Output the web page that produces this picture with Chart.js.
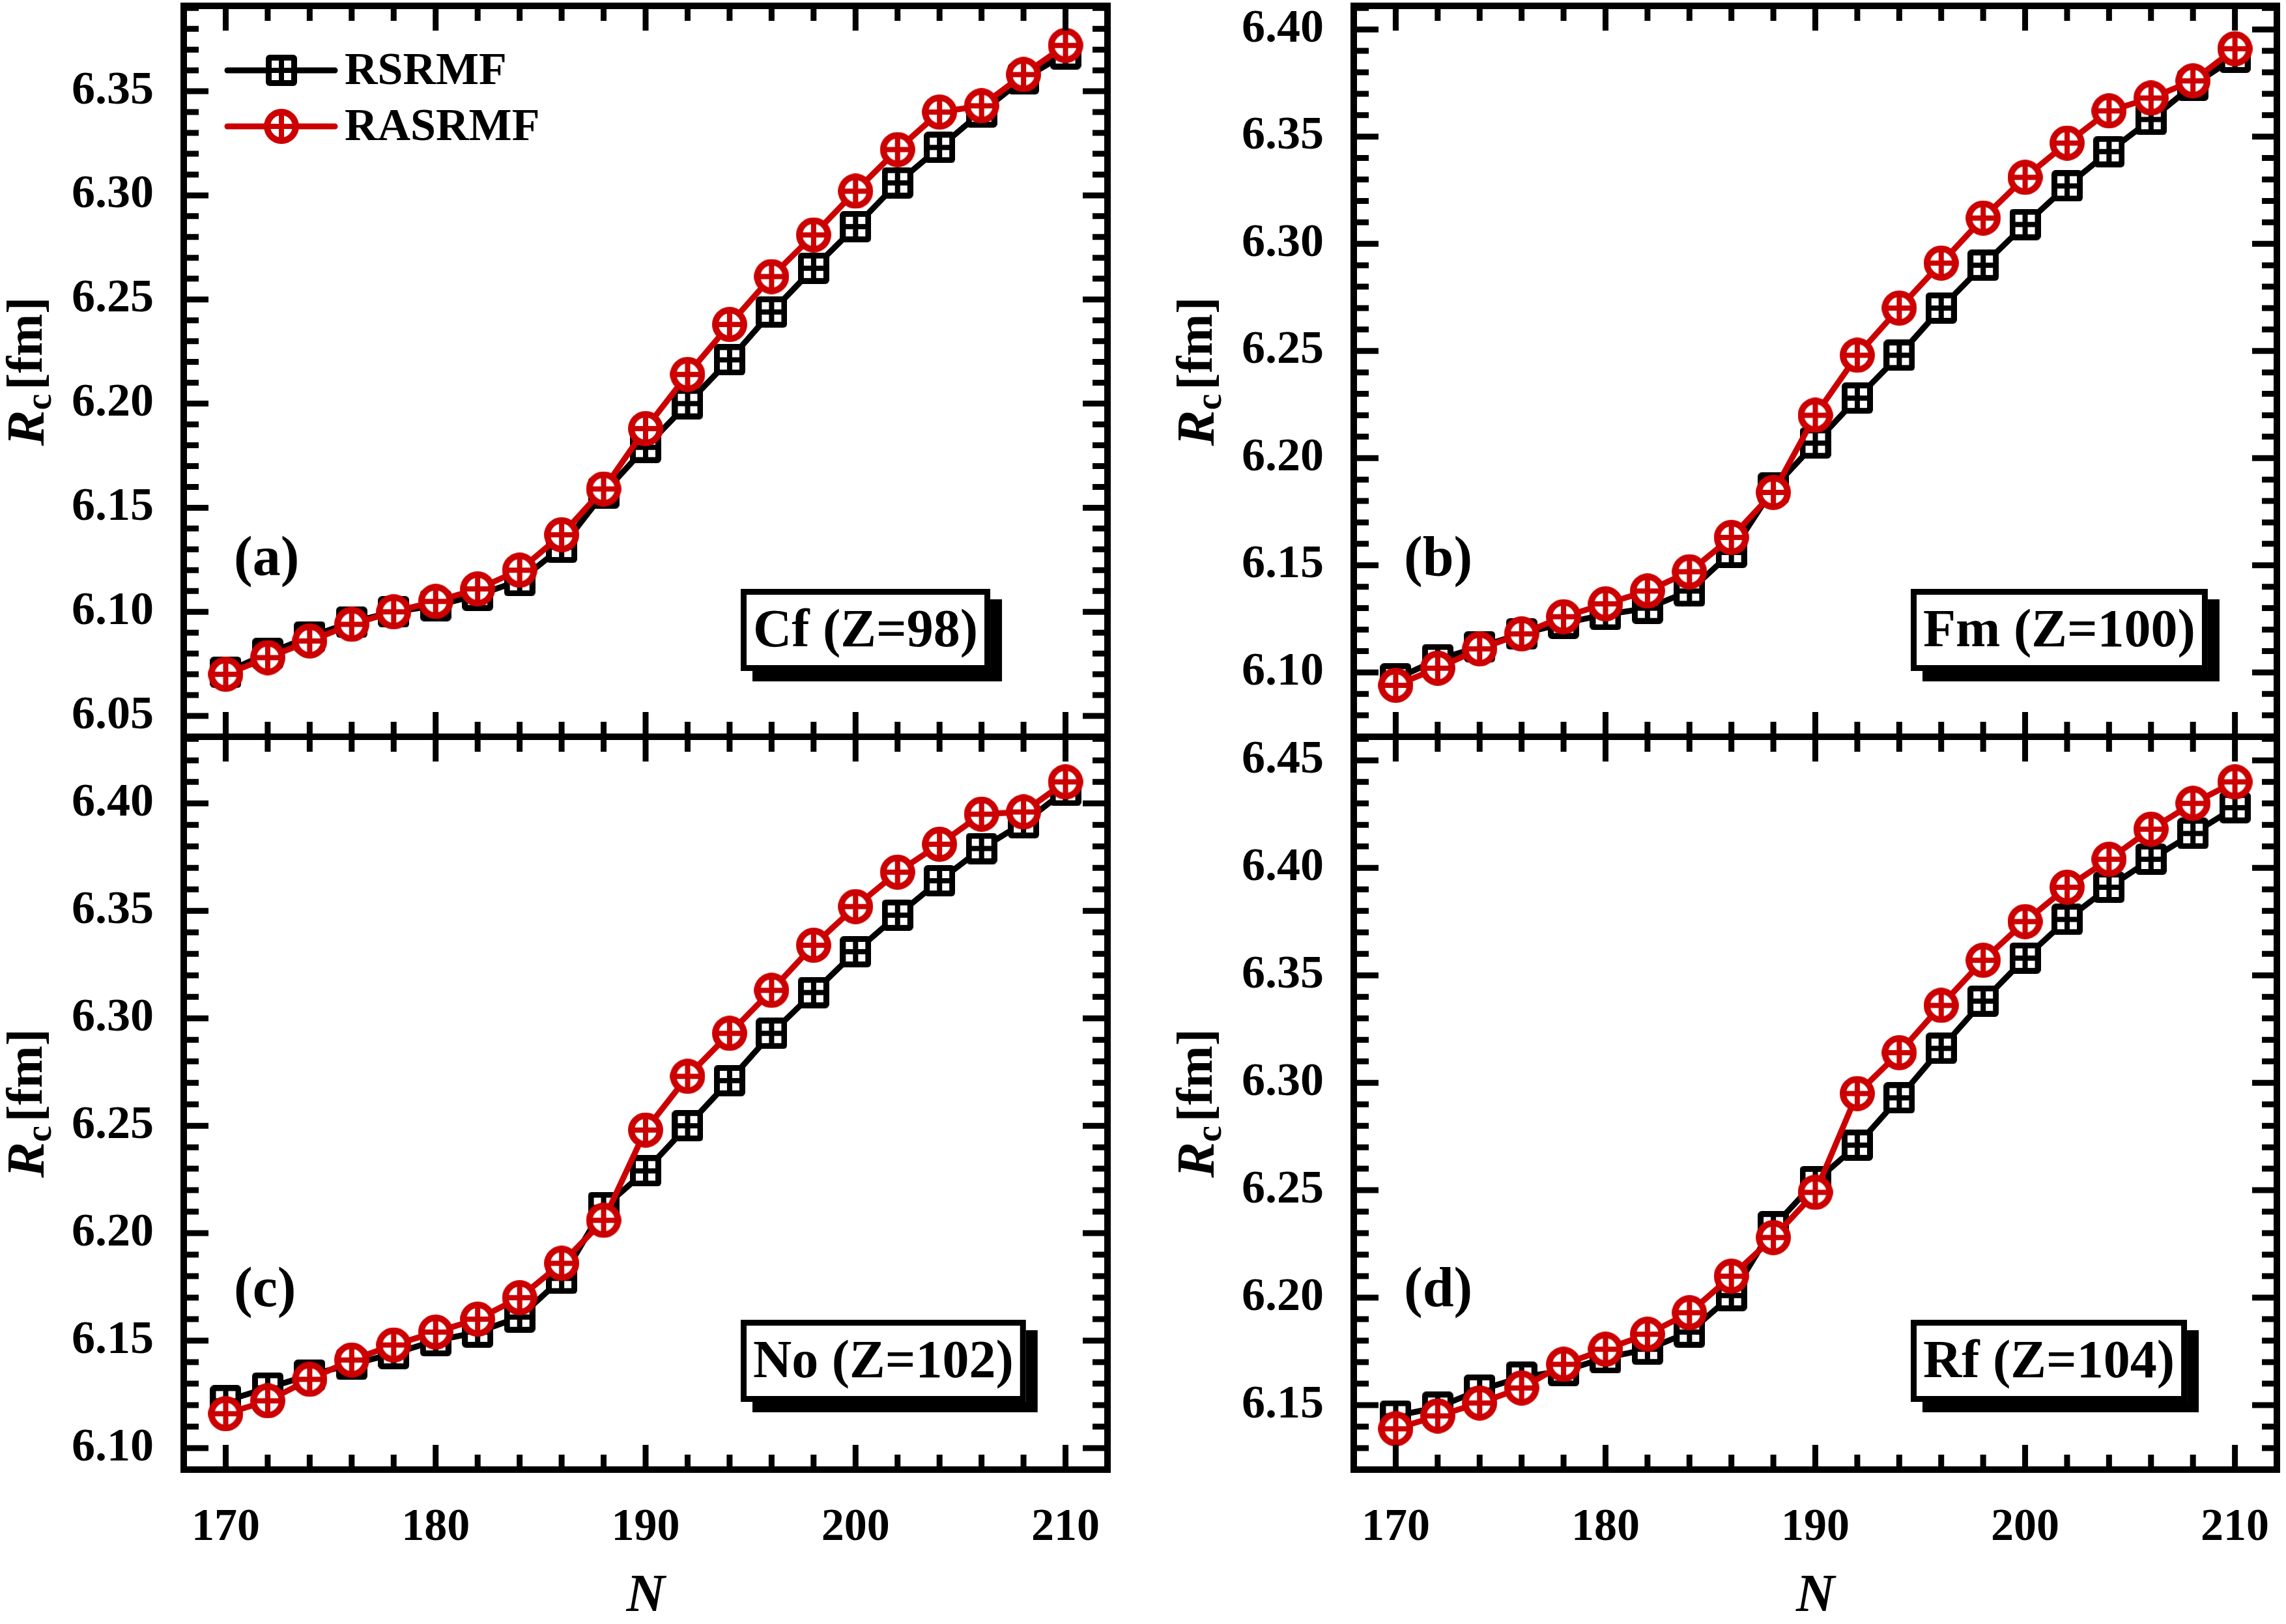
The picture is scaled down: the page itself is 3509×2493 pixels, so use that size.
<!DOCTYPE html>
<html lang="en">
<head>
<meta charset="UTF-8">
<title>Rc vs N</title>
<script src="https://cdn.jsdelivr.net/npm/chart.js@4.4.0/dist/chart.umd.min.js"></script>
<style>
  body { margin: 0; background: #fff; width: 3509px; height: 2493px; overflow: hidden; position: relative; }
  canvas { position: absolute; }
</style>
</head>
<body>
<canvas id="chartA" width="1754" height="1160" style="left:0;top:0"></canvas>
<canvas id="chartB" width="1755" height="1160" style="left:1754px;top:0"></canvas>
<canvas id="chartC" width="1754" height="1393" style="left:0;top:1100px"></canvas>
<canvas id="chartD" width="1755" height="1393" style="left:1754px;top:1100px"></canvas>
<script>
// neutron numbers
const neutrons = [170,172,174,176,178,180,182,184,186,188,190,192,194,196,198,200,202,204,206,208,210];

// Cf (Z=98)
const cfRSRMF  = [6.071,6.080,6.088,6.095,6.100,6.103,6.108,6.115,6.131,6.157,6.179,6.200,6.221,6.244,6.265,6.285,6.306,6.323,6.340,6.356,6.368];
const cfRASRMF = [6.070,6.078,6.086,6.094,6.100,6.105,6.111,6.120,6.137,6.159,6.188,6.214,6.238,6.261,6.281,6.302,6.322,6.340,6.343,6.358,6.372];
// Fm (Z=100)
const fmRSRMF  = [6.097,6.106,6.112,6.118,6.123,6.127,6.130,6.138,6.156,6.186,6.207,6.228,6.248,6.270,6.290,6.309,6.327,6.343,6.358,6.374,6.387];
const fmRASRMF = [6.094,6.102,6.111,6.118,6.126,6.132,6.138,6.147,6.163,6.184,6.220,6.248,6.270,6.291,6.312,6.331,6.347,6.362,6.368,6.376,6.391];
// No (Z=102)
const noRSRMF  = [6.122,6.128,6.134,6.139,6.144,6.150,6.154,6.161,6.179,6.212,6.229,6.250,6.271,6.293,6.312,6.331,6.348,6.364,6.379,6.391,6.406];
const noRASRMF = [6.116,6.122,6.132,6.141,6.148,6.154,6.160,6.170,6.186,6.206,6.248,6.273,6.293,6.313,6.334,6.352,6.368,6.381,6.395,6.396,6.410];
// Rf (Z=104)
const rfRSRMF  = [6.145,6.149,6.157,6.163,6.166,6.172,6.176,6.184,6.201,6.233,6.254,6.271,6.293,6.316,6.338,6.358,6.376,6.391,6.404,6.416,6.428];
const rfRASRMF = [6.139,6.145,6.151,6.158,6.169,6.176,6.183,6.193,6.210,6.228,6.249,6.295,6.314,6.336,6.357,6.375,6.391,6.404,6.418,6.430,6.440];

// axis ranges [min, max]
const xRange = [168, 212];
const yRangeA = [6.040, 6.391];
const yRangeB = [6.070, 6.411];
const yRangeC = [6.090, 6.431];
const yRangeD = [6.120, 6.461];

const seriesNames = ['RSRMF', 'RASRMF'];
const RED = 'rgb(204,0,0)';
const FONT = "'Liberation Serif', 'Times New Roman', serif";

// marker glyphs: square with a cross, circle with a cross
function squareMarker() {
  const s = 48, c = document.createElement('canvas');
  c.width = s; c.height = s;
  const g = c.getContext('2d');
  g.fillStyle = '#000';
  g.beginPath(); g.roundRect(0, 0, s, s, 6); g.fill();
  g.fillStyle = '#fff';
  const b = 9, bar = 8, w = (s - 2 * b - bar) / 2;
  g.fillRect(b, b, w, w);
  g.fillRect(b + w + bar, b, w, w);
  g.fillRect(b, b + w + bar, w, w);
  g.fillRect(b + w + bar, b + w + bar, w, w);
  return c;
}
function circleMarker() {
  const s = 54, c = document.createElement('canvas');
  c.width = s; c.height = s;
  const g = c.getContext('2d');
  const r = s / 2;
  g.fillStyle = RED;
  g.beginPath(); g.arc(r, r, r, 0, Math.PI * 2); g.fill();
  g.fillStyle = '#fff';
  g.beginPath(); g.arc(r, r, r - 10, 0, Math.PI * 2); g.fill();
  g.fillStyle = RED;
  g.fillRect(r - 4, 6, 8, s - 12);
  g.fillRect(6, r - 4, s - 12, 8);
  return c;
}
const sqImg = squareMarker();
const ciImg = circleMarker();

function isMajorY(v) { return Math.round(v * 100) % 5 === 0; }
function isMajorX(v) { return Math.round(v) % 10 === 0; }

function stepTicks(min, max, step) {
  const out = [];
  for (let i = Math.ceil(min / step - 1e-6); i <= Math.floor(max / step + 1e-6); i++) {
    out.push({ value: +(i * step).toFixed(4) });
  }
  return out;
}

// frame, inward ticks, legend, labels
const framePlugin = {
  id: 'frame',
  afterDraw(chart, args, opts) {
    const ctx = chart.ctx, a = chart.chartArea;
    const xs = chart.scales.x, ys = chart.scales.y;
    ctx.save();
    ctx.strokeStyle = '#000';
    ctx.lineWidth = 9;
    ctx.beginPath();
    xs.ticks.forEach(t => {
      const px = xs.getPixelForValue(t.value);
      const len = isMajorX(t.value) ? 38 : 23;
      ctx.moveTo(px, a.bottom); ctx.lineTo(px, a.bottom - len);
      ctx.moveTo(px, a.top); ctx.lineTo(px, a.top + len);
    });
    ys.ticks.forEach(t => {
      const py = ys.getPixelForValue(t.value);
      const len = isMajorY(t.value) ? 38 : 23;
      ctx.moveTo(a.left, py); ctx.lineTo(a.left + len, py);
      ctx.moveTo(a.right, py); ctx.lineTo(a.right - len, py);
    });
    ctx.stroke();
    ctx.lineWidth = 10;
    ctx.strokeRect(a.left, a.top, a.right - a.left, a.bottom - a.top);

    // y title R_c [fm]
    ctx.fillStyle = '#000';
    ctx.translate(a.left - 236, (a.top + a.bottom) / 2);
    ctx.rotate(-Math.PI / 2);
    ctx.textBaseline = 'middle';
    ctx.textAlign = 'left';
    const fR = 'italic bold 82px ' + FONT, fC = 'bold 56px ' + FONT, fU = 'bold 78px ' + FONT;
    ctx.font = fR; const wR = ctx.measureText('R').width;
    ctx.font = fC; const wC = ctx.measureText('c').width;
    ctx.font = fU; const wU = ctx.measureText('[fm]').width;
    let x0 = -(wR + wC + 6 + wU) / 2;
    ctx.font = fR; ctx.fillText('R', x0, 0);
    ctx.font = fC; ctx.fillText('c', x0 + wR, 18);
    ctx.font = fU; ctx.fillText('[fm]', x0 + wR + wC + 6, -2);
    ctx.setTransform(1, 0, 0, 1, 0, 0);

    // panel tag
    ctx.font = 'bold 86px ' + FONT;
    ctx.textAlign = 'left';
    ctx.textBaseline = 'middle';
    ctx.fillText(opts.tag, a.left + 77, a.top + 852);

    // element box with shadow
    ctx.font = 'bold 82px ' + FONT;
    const tw = ctx.measureText(opts.element).width;
    const bx = a.left + 855, by = a.top + 895, bw = tw + 38, bh = 126;
    ctx.fillStyle = '#000';
    ctx.fillRect(bx + 18, by + 16, bw, bh);
    ctx.fillStyle = '#fff';
    ctx.fillRect(bx, by, bw, bh);
    ctx.lineWidth = 9;
    ctx.strokeStyle = '#000';
    ctx.strokeRect(bx + 4.5, by + 4.5, bw - 9, bh - 9);
    ctx.fillStyle = '#000';
    ctx.textAlign = 'center';
    ctx.fillText(opts.element, bx + bw / 2, by + bh / 2 + 4);

    // legend
    if (opts.legend) {
      const rows = [
        { y: a.top + 99, color: '#000', img: sqImg, name: seriesNames[0] },
        { y: a.top + 185, color: RED, img: ciImg, name: seriesNames[1] }
      ];
      ctx.font = 'bold 70px ' + FONT;
      ctx.textAlign = 'left';
      ctx.textBaseline = 'middle';
      rows.forEach(r => {
        ctx.strokeStyle = r.color;
        ctx.lineWidth = 9;
        ctx.lineCap = 'round';
        ctx.beginPath();
        ctx.moveTo(a.left + 67, r.y); ctx.lineTo(a.left + 232, r.y);
        ctx.stroke();
        ctx.drawImage(r.img, a.left + 150 - r.img.width / 2, r.y - r.img.height / 2);
        ctx.fillStyle = '#000';
        ctx.fillText(r.name, a.left + 247, r.y + 3);
      });
    }
    ctx.restore();
  }
};

function makeChart(id, black, red, yRange, opt) {
  const ctx = document.getElementById(id).getContext('2d');
  return new Chart(ctx, {
    type: 'line',
    data: {
      labels: neutrons,
      datasets: [
        {
          label: seriesNames[1],
          data: neutrons.map((n, i) => ({ x: n, y: red[i] })),
          borderColor: RED,
          borderWidth: 9,
          pointStyle: ciImg,
          pointRadius: 26,
          tension: 0,
          order: 0
        },
        {
          label: seriesNames[0],
          data: neutrons.map((n, i) => ({ x: n, y: black[i] })),
          borderColor: '#000',
          borderWidth: 9,
          pointStyle: sqImg,
          pointRadius: 24,
          tension: 0,
          order: 1
        }
      ]
    },
    options: {
      responsive: false,
      animation: false,
      devicePixelRatio: 1,
      layout: { autoPadding: false, padding: { left: 0, right: opt.padRight, top: opt.padTop, bottom: 0 } },
      plugins: {
        legend: { display: false },
        tooltip: { enabled: false },
        frame: { tag: opt.tag, element: opt.element, legend: opt.legend }
      },
      scales: {
        x: {
          type: 'linear',
          min: xRange[0],
          max: xRange[1],
          grid: { display: false, drawTicks: false, tickLength: 0 },
          border: { display: false },
          afterBuildTicks: s => { s.ticks = stepTicks(s.min, s.max, 2); },
          afterFit: s => { s.height = opt.xHeight; s.paddingLeft = 0; s.paddingRight = 0; },
          ticks: {
            display: opt.bottom,
            autoSkip: false,
            maxRotation: 0,
            padding: 48,
            color: '#000',
            font: { family: FONT, size: 70, weight: 'bold' },
            callback: v => isMajorX(v) ? String(v) : ''
          },
          title: {
            display: opt.bottom,
            text: 'N',
            color: '#000',
            padding: 0,
            font: { family: FONT, size: 82, weight: 'bold', style: 'italic', lineHeight: 1.0 }
          }
        },
        y: {
          type: 'linear',
          min: yRange[0],
          max: yRange[1],
          grid: { display: false, drawTicks: false, tickLength: 0 },
          border: { display: false },
          afterBuildTicks: s => { s.ticks = stepTicks(s.min, s.max, 0.01); },
          afterFit: s => { s.width = opt.yWidth; s.paddingTop = 0; s.paddingBottom = 0; },
          ticks: {
            autoSkip: false,
            padding: 46,
            color: '#000',
            font: { family: FONT, size: 72, weight: 'bold' },
            callback: v => isMajorY(v) ? v.toFixed(2) : ''
          }
        }
      }
    },
    plugins: [framePlugin]
  });
}

makeChart('chartA', cfRSRMF, cfRASRMF, yRangeA,
  { tag: '(a)', element: 'Cf (Z=98)', legend: true, bottom: false, padTop: 9, padRight: 54, xHeight: 29, yWidth: 282 });
makeChart('chartB', fmRSRMF, fmRASRMF, yRangeB,
  { tag: '(b)', element: 'Fm (Z=100)', legend: false, bottom: false, padTop: 9, padRight: 14, xHeight: 29, yWidth: 324 });
makeChart('chartC', noRSRMF, noRASRMF, yRangeC,
  { tag: '(c)', element: 'No (Z=102)', legend: false, bottom: true, padTop: 31, padRight: 54, xHeight: 237, yWidth: 282 });
makeChart('chartD', rfRSRMF, rfRASRMF, yRangeD,
  { tag: '(d)', element: 'Rf (Z=104)', legend: false, bottom: true, padTop: 31, padRight: 14, xHeight: 237, yWidth: 324 });
</script>
</body>
</html>
